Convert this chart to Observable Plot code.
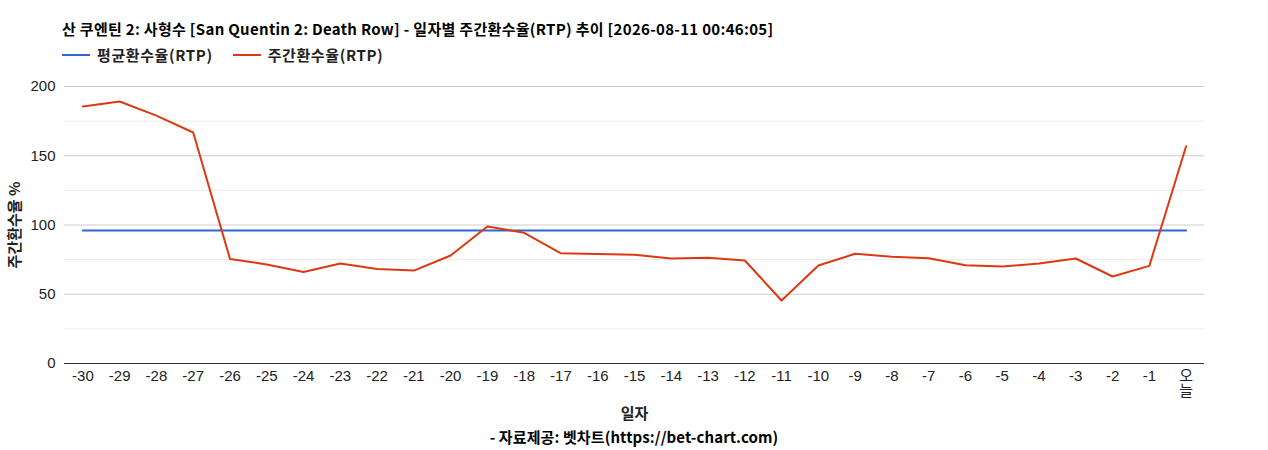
<!DOCTYPE html>
<html>
<head>
<meta charset="utf-8">
<script src="https://cdn.jsdelivr.net/npm/d3@7"></script>
<script src="https://cdn.jsdelivr.net/npm/@observablehq/plot@0.6"></script>
<style>
  body { margin: 0; background: #fff; width: 1268px; height: 450px; position: relative; overflow: hidden; font-family: "Noto Sans CJK KR", "Noto Sans", sans-serif; }
  #title { position: absolute; left: 62px; top: 19px; font-size: 15px; letter-spacing: 0.3px; font-weight: bold; color: #000; line-height: 20px; white-space: nowrap; }
  #legend { position: absolute; left: 62px; top: 45px; font-size: 15px; letter-spacing: 0.6px; font-weight: bold; color: #222; line-height: 20px; display: flex; align-items: center; white-space: nowrap; }
  .sw { display: inline-block; width: 28px; height: 2px; margin-right: 7px; }
  .item { display: flex; align-items: center; margin-right: 20px; }
  #chart { position: absolute; left: 0; top: 70px; }
  #caption { position: absolute; left: 0; width: 1268px; top: 427px; text-align: center; font-size: 15px; letter-spacing: 0.1px; font-weight: bold; color: #000; line-height: 20px; }
</style>
</head>
<body>
<div id="title">산 쿠엔틴 2: 사형수 [San Quentin 2: Death Row] - 일자별 주간환수율(RTP) 추이 [2026-08-11 00:46:05]</div>
<div id="legend"></div>
<div id="chart"></div>
<div id="caption">- 자료제공: 벳차트(https://bet-chart.com)</div>
<script>
const days = ["-30","-29","-28","-27","-26","-25","-24","-23","-22","-21","-20","-19","-18","-17","-16","-15","-14","-13","-12","-11","-10","-9","-8","-7","-6","-5","-4","-3","-2","-1","오늘"];
const weeklyRTP = [185.6,189.2,179.0,166.8,75.5,71.5,66.0,72.2,68.2,67.1,78.0,98.9,94.4,79.6,79.0,78.5,75.8,76.3,74.4,45.5,70.8,79.2,77.0,76.0,71.0,70.0,72.2,75.8,62.8,70.5,156.9];
const avgRTP = 96.0;
const majorTicks = [0,50,100,150,200];
const minorTicks = [25,75,125,175];
const seriesNames = ["평균환수율(RTP)","주간환수율(RTP)"];
const seriesColors = ["#3366cc","#dc3912"];

const legend = document.getElementById("legend");
seriesNames.forEach((n,i)=>{
  const it = document.createElement("span"); it.className="item";
  const sw = document.createElement("span"); sw.className="sw"; sw.style.background=seriesColors[i];
  it.appendChild(sw); it.appendChild(document.createTextNode(n)); legend.appendChild(it);
});

const weekly = days.map((d,i)=>({day:d, v:weeklyRTP[i]}));
const avg = days.map(d=>({day:d, v:avgRTP}));

const chart = Plot.plot({
  width: 1268, height: 360,
  marginTop: 16, marginLeft: 64, marginRight: 64, marginBottom: 67,
  style: {fontFamily: "'Liberation Sans', Arial, 'Noto Sans CJK KR', sans-serif", fontSize: "15px", color: "#222", background: "#fff"},
  x: {type: "point", domain: days, padding: 0.5, round: false},
  y: {domain: [0,200]},
  marks: [
    Plot.ruleY(minorTicks, {stroke: "#ebebeb", strokeWidth: 1}),
    Plot.ruleY(majorTicks.filter(t=>t>0), {stroke: "#cccccc", strokeWidth: 1}),
    Plot.axisY({ticks: majorTicks, tickSize: 0, tickPadding: 9, label: null, fontSize: 15}),
    Plot.axisX({tickSize: 0, tickPadding: 7, label: null, fontSize: 15, tickFormat: d => d === "오늘" ? "오\n늘" : d}),
    Plot.line(avg, {x: "day", y: "v", stroke: seriesColors[0], strokeWidth: 2}),
    Plot.line(weekly, {x: "day", y: "v", stroke: seriesColors[1], strokeWidth: 2}),
    Plot.ruleY([0], {stroke: "#333", strokeWidth: 1}),
    Plot.text([0], {frameAnchor: "left", text: () => "주간환수율 %", rotate: -90, dx: -49, textAnchor: "middle", lineAnchor: "middle", fontWeight: "bold", fontSize: 15, fill: "#222", fontFamily: "'Noto Sans CJK KR', sans-serif"}),
    Plot.text([0], {frameAnchor: "bottom", text: () => "일자", dy: 51, lineAnchor: "middle", fontWeight: "bold", fontSize: 15, fill: "#222", fontFamily: "'Noto Sans CJK KR', sans-serif"})
  ]
});
document.getElementById("chart").appendChild(chart);
</script>
</body>
</html>
